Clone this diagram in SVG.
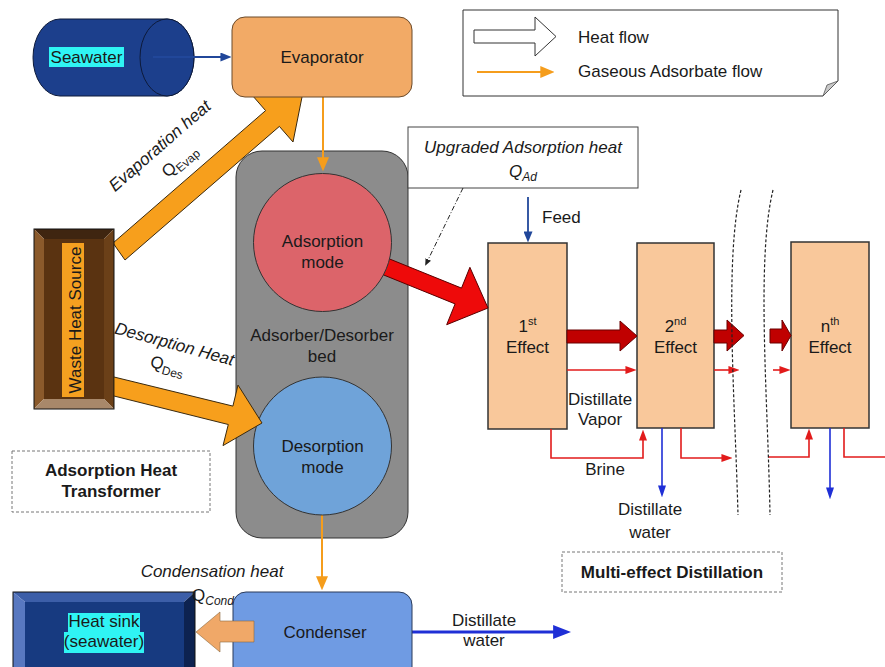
<svg xmlns="http://www.w3.org/2000/svg" width="885" height="667" viewBox="0 0 885 667">
<style>
text{font-family:"Liberation Sans",Arial,Helvetica,sans-serif;font-size:17px;fill:#1a1a1a}
.c{text-anchor:middle}
.i{font-style:italic}
.b{font-weight:bold}
.sub{font-size:12px}
.sup{font-size:11px}
.eff{fill:#f9c89b;stroke:#333;stroke-width:1.5}
.heat{fill:#f79f1c;stroke:#3a2a10;stroke-width:1}
.dr{fill:#c00000;stroke:#6a0000;stroke-width:1}
.ln-or{stroke:#f59d1c;stroke-width:2;fill:none}
.ln-red{stroke:#e21b1b;stroke-width:1.6;fill:none}
.ln-bl{stroke:#1f2fd6;stroke-width:1.6;fill:none}
.ln-db{stroke:#21479a;stroke-width:1.8;fill:none}
.dash{fill:#fff;stroke:#777;stroke-width:1;stroke-dasharray:3,2}
.brk{fill:none;stroke:#222;stroke-width:1.2;stroke-dasharray:3,2}
</style>
<defs>
<marker id="m-or" viewBox="0 0 10 10" refX="0.5" refY="5" markerUnits="userSpaceOnUse" markerWidth="14" markerHeight="12" orient="auto" preserveAspectRatio="none"><path d="M0,0L10,5L0,10z" fill="#f59d1c"/></marker>
<marker id="m-db" viewBox="0 0 10 10" refX="0.5" refY="5" markerUnits="userSpaceOnUse" markerWidth="11" markerHeight="9" orient="auto" preserveAspectRatio="none"><path d="M0,0L10,5L0,10z" fill="#21479a"/></marker>
<marker id="m-red" viewBox="0 0 10 10" refX="0.5" refY="5" markerUnits="userSpaceOnUse" markerWidth="11" markerHeight="8" orient="auto" preserveAspectRatio="none"><path d="M0,0L10,5L0,10z" fill="#e21b1b"/></marker>
<marker id="m-bl" viewBox="0 0 10 10" refX="0.5" refY="5" markerUnits="userSpaceOnUse" markerWidth="12" markerHeight="8" orient="auto" preserveAspectRatio="none"><path d="M0,0L10,5L0,10z" fill="#1f2fd6"/></marker>
<marker id="m-bl2" viewBox="0 0 10 10" refX="0.5" refY="5" markerUnits="userSpaceOnUse" markerWidth="18" markerHeight="14" orient="auto" preserveAspectRatio="none"><path d="M0,0L10,5L0,10z" fill="#1f2fd6"/></marker>
<marker id="m-k" viewBox="0 0 10 10" refX="0.5" refY="5" markerUnits="userSpaceOnUse" markerWidth="7" markerHeight="6" orient="auto" preserveAspectRatio="none"><path d="M0,0L10,5L0,10z" fill="#222"/></marker>
</defs>

<g id="legend">
<path d="M463,10 H838 V81 L823,96 H463 Z" fill="#fff" stroke="#333"/>
<path d="M838,81 L823,96 L827,85 Z" fill="#c8c8c8" stroke="#555" stroke-width="0.8"/>
<polygon points="474,30 535,30 535,17 556,36.5 535,56 535,43 474,43" fill="#fff" stroke="#333"/>
<line x1="477" y1="72" x2="541" y2="72" class="ln-or" marker-end="url(#m-or)"/>
<text x="578" y="43">Heat flow</text>
<text x="578" y="77">Gaseous Adsorbate flow</text>
</g>

<g id="seawater">
<path d="M60,19 H167 A27,38.5 0 0 1 167,96 H60 A27,38.5 0 0 1 60,19 Z" fill="#1c3f8c" stroke="#0d1a3a"/>
<ellipse cx="167" cy="57.5" rx="27" ry="38.5" fill="#1c3f8c" stroke="#0d1a3a"/>
<rect x="49" y="47" width="75" height="20" fill="#2ff4f4"/>
<text x="86.5" y="63" class="c">Seawater</text>
</g>

<g id="bed">
<rect x="236" y="151" width="172" height="387" rx="26" fill="#8c8c8c" stroke="#333"/>
<text x="322" y="341" class="c">Adsorber/Desorber</text>
<text x="322" y="362" class="c">bed</text>
</g>

<g id="upgraded-heat">
<rect x="408" y="127" width="230" height="61" fill="#fff" stroke="#444"/>
<text x="523" y="153" class="c i">Upgraded Adsorption heat</text>
<text x="523" y="177" class="c i">Q<tspan class="sub" dy="4">Ad</tspan></text>
</g>

<g id="effect-1"><rect x="488" y="243" width="79" height="186" class="eff"/><text x="527.5" y="332" class="c">1<tspan class="sup" dy="-7">st</tspan></text><text x="527.5" y="353" class="c">Effect</text></g>
<g id="effect-2"><rect x="637" y="243" width="77" height="185" class="eff"/><text x="675.5" y="332" class="c">2<tspan class="sup" dy="-7">nd</tspan></text><text x="675.5" y="353" class="c">Effect</text></g>
<g id="effect-n"><rect x="791" y="242" width="78" height="186" class="eff"/><text x="830" y="332" class="c">n<tspan class="sup" dy="-7">th</tspan></text><text x="830" y="353" class="c">Effect</text></g>

<g id="aht-label"><rect x="12" y="451" width="198" height="61" class="dash"/><text x="111" y="476" class="c b">Adsorption Heat</text><text x="111" y="497" class="c b">Transformer</text></g>
<g id="med-label"><rect x="562" y="552" width="220" height="40" class="dash"/><text x="672" y="578" class="c b">Multi-effect Distillation</text></g>

<g id="connectors">
<polygon class="heat" points="113,243 265.6,110.6 252,95 303,92 293,142 279.4,126.4 125,260"/>
<polygon points="364.2,248.7 461.5,288.1 469.9,267.3 488,308 446.7,324.7 455.1,303.9 357.8,264.5" fill="#ee0a0a" stroke="#5a0000" stroke-width="1"/>
<line x1="153" y1="57" x2="221" y2="57" class="ln-db" marker-end="url(#m-db)"/>
<line x1="323" y1="97" x2="323" y2="158" class="ln-or" marker-end="url(#m-or)"/>
<line x1="322" y1="515" x2="322" y2="577" class="ln-or" marker-end="url(#m-or)"/>
<line x1="463" y1="188" x2="428.1" y2="259.7" stroke="#222" stroke-width="1" stroke-dasharray="5,2,1,2" marker-end="url(#m-k)"/>
<line x1="528" y1="197" x2="528" y2="232" class="ln-db" marker-end="url(#m-db)"/>
<polygon class="dr" points="567,330 620,330 620,321 637,336 620,351 620,343 567,343"/>
<polygon class="dr" points="714,330 727,330 727,320 744,335.5 727,351 727,343 714,343"/>
<polygon class="dr" points="770,329 782,329 782,320 791,335.5 782,351 782,343 770,343"/>
<line x1="567" y1="370" x2="626" y2="370" class="ln-red" marker-end="url(#m-red)"/>
<line x1="714" y1="370" x2="729" y2="370" class="ln-red" marker-end="url(#m-red)"/>
<line x1="773" y1="370" x2="780" y2="370" class="ln-red" marker-end="url(#m-red)"/>
<path d="M551,429 V458 H643 V440" class="ln-red" marker-end="url(#m-red)"/>
<path d="M681,428 V458 H722" class="ln-red" marker-end="url(#m-red)"/>
<path d="M768,457 H809 V439" class="ln-red" marker-end="url(#m-red)"/>
<path d="M844,428 V457 H885" class="ln-red"/>
<line x1="662" y1="428" x2="662" y2="486" class="ln-bl" marker-end="url(#m-bl)"/>
<line x1="830" y1="428" x2="830" y2="488" class="ln-bl" marker-end="url(#m-bl)"/>
<line x1="412" y1="632" x2="554" y2="632" stroke="#1f2fd6" stroke-width="3" marker-end="url(#m-bl2)"/>
</g>

<g id="break-marks">
<path d="M741,190 C724,260 735,400 738,515" class="brk"/>
<path d="M773,190 C756,260 768,400 770,515" class="brk"/>
</g>

<g id="evaporator">
<rect x="232" y="17" width="180" height="80" rx="13" fill="#f2aa66" stroke="#6b4a2a"/>
<text x="322" y="63" class="c">Evaporator</text>
</g>

<g id="adsorption-mode">
<circle cx="322.5" cy="242.5" r="69" fill="#dc646a" stroke="#333"/>
<text x="322.5" y="247" class="c">Adsorption</text>
<text x="322.5" y="268" class="c">mode</text>
</g>

<g id="desorption-mode">
<circle cx="322.5" cy="446" r="69" fill="#6fa3d9" stroke="#333"/>
<text x="322.5" y="452" class="c">Desorption</text>
<text x="322.5" y="473" class="c">mode</text>
</g>

<g id="waste-heat-source">
<polygon points="34,229 114,229 104,239 44,239" fill="#3f2510"/>
<polygon points="34,229 44,239 44,399 34,409" fill="#8b5a2b"/>
<polygon points="114,229 114,409 104,399 104,239" fill="#6b4018"/>
<polygon points="34,409 114,409 104,399 44,399" fill="#a8886a"/>
<rect x="44" y="239" width="60" height="160" fill="#5a3311"/>
<rect x="34" y="229" width="80" height="180" fill="none" stroke="#111"/>
<rect x="62" y="243" width="22" height="154" fill="#f5a020"/>
<text transform="translate(81,320) rotate(-90)" class="c">Waste Heat Source</text>
</g>

<g id="condenser">
<rect x="233" y="592" width="179" height="95" rx="13" fill="#6f9be3" stroke="#2a3a5a"/>
<text x="325" y="638" class="c">Condenser</text>
</g>

<g id="heat-sink">
<polygon points="13,592 195,592 184,602 25,602" fill="#3c5ea8"/>
<polygon points="13,592 25,602 25,680 13,680" fill="#5878c0"/>
<polygon points="195,592 195,680 184,680 184,602" fill="#0d2250"/>
<rect x="25" y="602" width="159" height="80" fill="#173a80"/>
<rect x="13" y="592" width="182" height="90" fill="none" stroke="#111"/>
<rect x="68" y="613" width="72" height="19" fill="#2ff4f4"/>
<rect x="64" y="632" width="80" height="21" fill="#2ff4f4"/>
<text x="104" y="627" class="c">Heat sink</text>
<text x="104" y="647" class="c">(seawater)</text>
</g>

<g id="connectors-front">
<polygon class="heat" points="114,377 232.9,406.1 238,385 262,423 223,445.6 228.3,424.5 114,396"/>
<polygon points="254,621 220,621 220,612 196,632 220,652 220,642 254,642" fill="#f0a868" stroke="#8a6a40" stroke-width="0.6"/>
</g>

<g id="labels">
<text transform="translate(163.5,150) rotate(-41)" class="c i">Evaporation heat</text>
<text transform="translate(183,165) rotate(-41)" class="c">Q<tspan class="sub" dy="4">Evap</tspan></text>
<text transform="translate(173,349.5) rotate(15.4)" class="c i">Desorption Heat</text>
<text transform="translate(166,371) rotate(15.4)" class="c">Q<tspan class="sub" dy="4">Des</tspan></text>
<text x="212" y="577" class="c i">Condensation heat</text>
<text x="192" y="601">Q<tspan class="sub i" dy="4">Cond</tspan></text>
<text x="542" y="223">Feed</text>
<text x="600" y="405" class="c">Distillate</text>
<text x="600" y="425" class="c">Vapor</text>
<text x="605" y="475" class="c">Brine</text>
<text x="650" y="515" class="c">Distillate</text>
<text x="650" y="538" class="c">water</text>
<text x="484" y="626" class="c">Distillate</text>
<text x="484" y="646" class="c">water</text>
</g>
</svg>
